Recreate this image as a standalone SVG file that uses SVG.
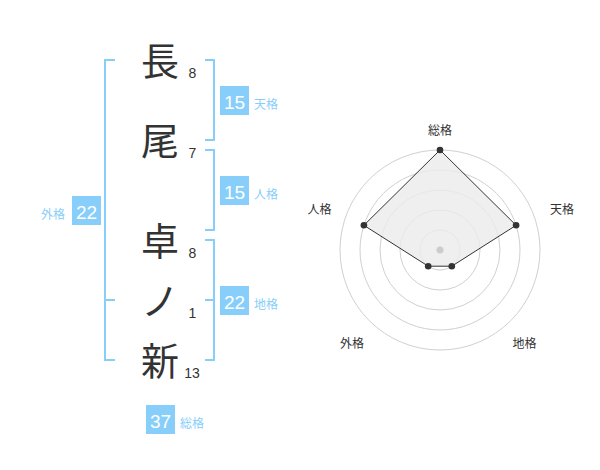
<svg xmlns="http://www.w3.org/2000/svg" width="600" height="470" viewBox="0 0 600 470">
<style>
.kanji{font-family:"Noto Sans CJK JP","Noto Sans CJK SC",sans-serif;font-size:38px;fill:#333;text-anchor:middle}
.stroke{font-family:"Liberation Sans",Arial,sans-serif;font-size:14px;fill:#333;text-anchor:middle}
.box{fill:#87cefa}
.boxnum{font-family:"Liberation Sans",Arial,sans-serif;font-size:19px;fill:#fff;text-anchor:middle}
.lbl{font-family:"Noto Sans CJK JP",sans-serif;font-size:12px;fill:#87cefa}
.br{fill:none;stroke:#87cefa;stroke-width:2}
.ring{fill:none;stroke:#d0d0d0;stroke-width:1}
.axis{font-family:"Noto Sans CJK JP",sans-serif;font-size:12px;fill:#333;text-anchor:middle}
.pt{fill:#333}
</style>
<rect width="600" height="470" fill="#fff"/>
<g id="connectors">
<path class="br" d="M115,60 H105 V360 H115 M105,300 H115"/>
<path class="br" d="M205,60 H214 V140 H205"/>
<path class="br" d="M205,150 H214 V230 H205"/>
<path class="br" d="M205,240 H214 V360 H205 M205,300 H214"/>
</g>
<g id="char-1"><text class="kanji" x="160" y="74.5">長</text><text class="stroke" x="192.5" y="78">8</text></g>
<g id="char-2"><text class="kanji" x="160" y="154.5">尾</text><text class="stroke" x="192.5" y="158">7</text></g>
<g id="char-3"><text class="kanji" x="160" y="254.5">卓</text><text class="stroke" x="192.5" y="258">8</text></g>
<g id="char-4"><text class="kanji" x="160" y="314.5">ノ</text><text class="stroke" x="192.5" y="318">1</text></g>
<g id="char-5"><text class="kanji" x="160" y="374.5">新</text><text class="stroke" x="192" y="378">13</text></g>
<g id="tenkaku"><rect class="box" x="220" y="86" width="29" height="29"/><text class="boxnum" x="234.5" y="108.5">15</text><text class="lbl" x="254" y="108.5">天格</text></g>
<g id="jinkaku"><rect class="box" x="220" y="176" width="29" height="29"/><text class="boxnum" x="234.5" y="198.5">15</text><text class="lbl" x="254" y="198.5">人格</text></g>
<g id="chikaku"><rect class="box" x="220" y="286" width="29" height="29"/><text class="boxnum" x="234.5" y="308.5">22</text><text class="lbl" x="254" y="308.5">地格</text></g>
<g id="gaikaku"><rect class="box" x="72" y="196" width="29" height="29"/><text class="boxnum" x="86.5" y="218.5">22</text><text class="lbl" x="41" y="218.5">外格</text></g>
<g id="soukaku"><rect class="box" x="146" y="405" width="29" height="29"/><text class="boxnum" x="160.5" y="427.5">37</text><text class="lbl" x="180" y="427.5">総格</text></g>
<g id="radar">
<circle class="ring" cx="440" cy="250" r="20"/>
<circle class="ring" cx="440" cy="250" r="40"/>
<circle class="ring" cx="440" cy="250" r="60"/>
<circle class="ring" cx="440" cy="250" r="80"/>
<circle class="ring" cx="440" cy="250" r="100"/>
<polygon points="440,150 516.1,225.3 451.8,266.2 428.2,266.2 363.9,225.3" fill="#ebebeb" fill-opacity="0.8" stroke="#333" stroke-width="1"/>
<circle cx="440" cy="250" r="3.5" fill="#ccc"/>
<circle class="pt" cx="440" cy="150" r="3.3"/>
<circle class="pt" cx="516.1" cy="225.3" r="3.3"/>
<circle class="pt" cx="451.8" cy="266.2" r="3.3"/>
<circle class="pt" cx="428.2" cy="266.2" r="3.3"/>
<circle class="pt" cx="363.9" cy="225.3" r="3.3"/>
<text class="axis" x="440" y="135">総格</text>
<text class="axis" x="562" y="214">天格</text>
<text class="axis" x="524.5" y="348">地格</text>
<text class="axis" x="352" y="348">外格</text>
<text class="axis" x="319.5" y="214">人格</text>
</g>
</svg>
